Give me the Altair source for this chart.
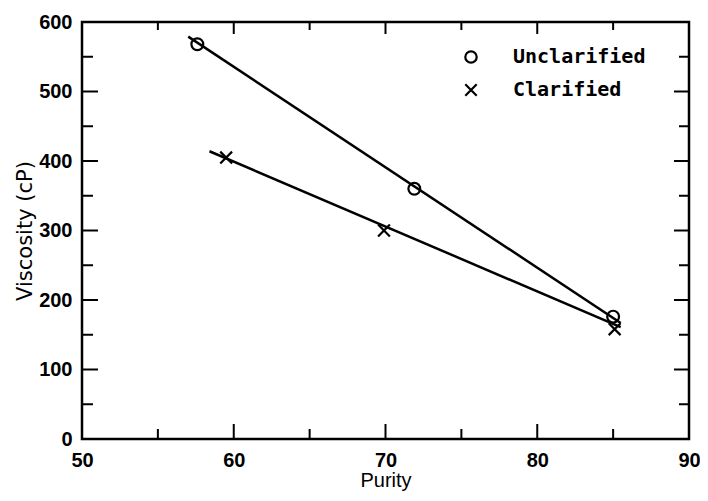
import altair as alt
import pandas as pd

# Data
series_names = ["Unclarified", "Clarified"]
unclar_purity = [57.6, 71.9, 85.0]
unclar_visc = [568, 360, 176]
clar_purity = [59.5, 69.9, 85.1]
clar_visc = [405, 300, 158]

# Fitted lines (end points of the drawn fits)
unclar_fit_purity = [57.0, 85.5]
unclar_fit_visc = [579, 167]
clar_fit_purity = [58.4, 85.5]
clar_fit_visc = [414, 161]

x_major = [60, 70, 80]
x_minor = [55, 65, 75, 85]
y_major = [100, 200, 300, 400, 500]
y_minor = [50, 150, 250, 350, 450, 550]
x_labels = [50, 60, 70, 80, 90]
y_labels = [0, 100, 200, 300, 400, 500, 600]

W, H = 607, 417

pts = pd.DataFrame({
    "Purity": unclar_purity + clar_purity,
    "Viscosity": unclar_visc + clar_visc,
    "Series": ["Unclarified"] * 3 + ["Clarified"] * 3,
})
fit = pd.DataFrame({
    "Purity": unclar_fit_purity + clar_fit_purity,
    "Viscosity": unclar_fit_visc + clar_fit_visc,
    "Series": ["Unclarified"] * 2 + ["Clarified"] * 2,
})

xscale = alt.Scale(domain=[50, 90], nice=False, zero=False)
yscale = alt.Scale(domain=[0, 600], nice=False, zero=False)

num_font = "Liberation Sans"

x_axis = alt.Axis(values=x_labels, ticks=False, domain=False, grid=False,
                  labelFont=num_font, labelFontWeight="bold", labelFontSize=20,
                  labelColor="black", labelPadding=11, labelFlush=False,
                  labelOverlap=False, title="Purity", titleFont=num_font,
                  titleFontWeight="normal", titleFontSize=20, titleColor="black",
                  titlePadding=0)
y_axis = alt.Axis(values=y_labels, ticks=False, domain=False, grid=False,
                  labelFont=num_font, labelFontWeight="bold", labelFontSize=20,
                  labelColor="black", labelPadding=10, labelFlush=False,
                  labelOverlap=False, title="Viscosity (cP)", titleFont="DejaVu Sans",
                  titleFontWeight="normal", titleFontSize=21, titleColor="black",
                  titlePadding=3)

lines = alt.Chart(fit).mark_line(color="black", strokeWidth=2.5).encode(
    x=alt.X("Purity:Q", scale=xscale, axis=x_axis),
    y=alt.Y("Viscosity:Q", scale=yscale, axis=y_axis),
    detail="Series:N",
)

points = alt.Chart(pts).mark_point(filled=False, color="black", strokeWidth=2.2,
                                   size=140, opacity=1).encode(
    x=alt.X("Purity:Q", scale=xscale, axis=x_axis),
    y=alt.Y("Viscosity:Q", scale=yscale, axis=y_axis),
    shape=alt.Shape("Series:N",
                    scale=alt.Scale(domain=series_names,
                                    range=["circle", "M-1,-1L1,1M1,-1L-1,1"]),
                    legend=alt.Legend(orient="none", legendX=379, legendY=25,
                                      title=None, padding=0,
                                      labelFont="DejaVu Sans Mono",
                                      labelFontWeight="bold", labelFontSize=20,
                                      labelColor="black", labelOffset=32,
                                      rowPadding=11, symbolSize=130,
                                      symbolStrokeWidth=2.2,
                                      symbolStrokeColor="black",
                                      symbolFillColor="transparent")),
)


def tick_layer(vals, channel, side, length):
    df = pd.DataFrame({"v": vals})
    base = alt.Chart(df).mark_rule(color="black", strokeWidth=2)
    if channel == "x":
        y0 = H if side == "bottom" else 0
        y1 = H - length if side == "bottom" else length
        return base.encode(x=alt.X("v:Q", scale=xscale, axis=x_axis),
                           y=alt.value(y0), y2=alt.value(y1))
    else:
        x0 = 0 if side == "left" else W
        x1 = length if side == "left" else W - length
        return base.encode(y=alt.Y("v:Q", scale=yscale, axis=y_axis),
                           x=alt.value(x0), x2=alt.value(x1))


ticks = [
    tick_layer(x_major, "x", "bottom", 15),
    tick_layer(x_minor, "x", "bottom", 10),
    tick_layer(x_major, "x", "top", 12),
    tick_layer(x_minor, "x", "top", 8),
    tick_layer(y_major, "y", "left", 16),
    tick_layer(y_minor, "y", "left", 11),
    tick_layer(y_major, "y", "right", 15),
    tick_layer(y_minor, "y", "right", 10),
]

chart = alt.layer(lines, points, *ticks).properties(
    width=W, height=H,
    autosize=alt.AutoSizeParams(type="none"),
    padding={"left": 74, "top": 14, "right": 11, "bottom": 54},
).configure(background="white").configure_view(stroke="black", strokeWidth=2.5)

chart.save("out.html", embed_options={"renderer": "svg", "actions": False})
